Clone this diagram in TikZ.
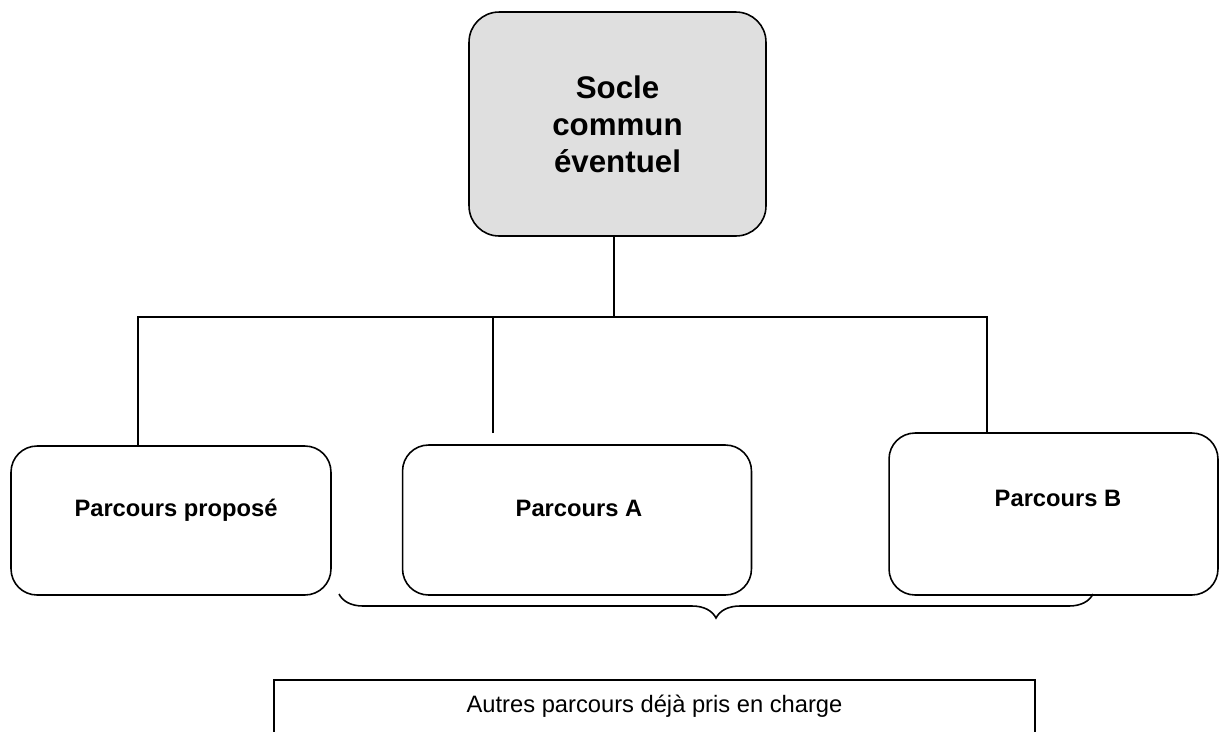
\documentclass[tikz,border=0pt]{standalone}
\usepackage{fontspec}
\setmainfont{Liberation Sans}
\usetikzlibrary{decorations.pathreplacing}
\begin{document}
\begin{tikzpicture}[x=0.02cm, y=-0.02cm, line width=0.9pt]
        % Socle commun et parcours
        \clip (0,0) rectangle (1219,731);
        \node[draw, fill=gray!25, rounded corners=0.6cm, minimum width=5.94cm, minimum height=4.48cm,
              align=center, font=\bfseries\fontsize{17.8}{21}\selectfont] (socle) at (617.5,124) {Socle\\commun\\éventuel};
        \foreach \name/\cx/\cy/\w/\h/\dx/\dy/\txt in {
            prop/171/520.5/6.4/2.98/0.1/0.2/Parcours proposé,
            parcA/577/520/6.98/3.0/0.04/0.24/Parcours A,
            parcB/1053.5/514/6.58/3.24/0.09/0.32/Parcours B
        } {
            \node[draw, rounded corners=0.52cm, minimum width=\w cm, minimum height=\h cm,
                  label={[xshift=\dx cm, yshift=\dy cm, font=\bfseries\fontsize{13.5}{16}\selectfont]center:\txt}] (\name) at (\cx,\cy) {};
        }
        \draw ([xshift=-0.07cm]socle.south) -- ++(0,80) coordinate (hub);
        \draw ([xshift=-0.66cm]prop.north) |- (hub) -| ([xshift=-1.33cm]parcB.north);
        \draw ([xshift=-1.68cm, yshift=0.22cm]parcA.north) |- (hub);
        % accolade
        \coordinate (braceL) at (339,594);
        \coordinate (braceR) at (1093,594);
        \draw[decorate, decoration={brace, mirror, amplitude=0.48cm}] (braceL) -- (braceR);
        \node[draw, anchor=north, minimum width=15.22cm, inner ysep=0.3cm, text depth=1.2cm,
              font=\fontsize{13.5}{16}\selectfont] (autres) at (654.5,679) {Autres parcours déjà pris en charge};
\end{tikzpicture}
\end{document}
